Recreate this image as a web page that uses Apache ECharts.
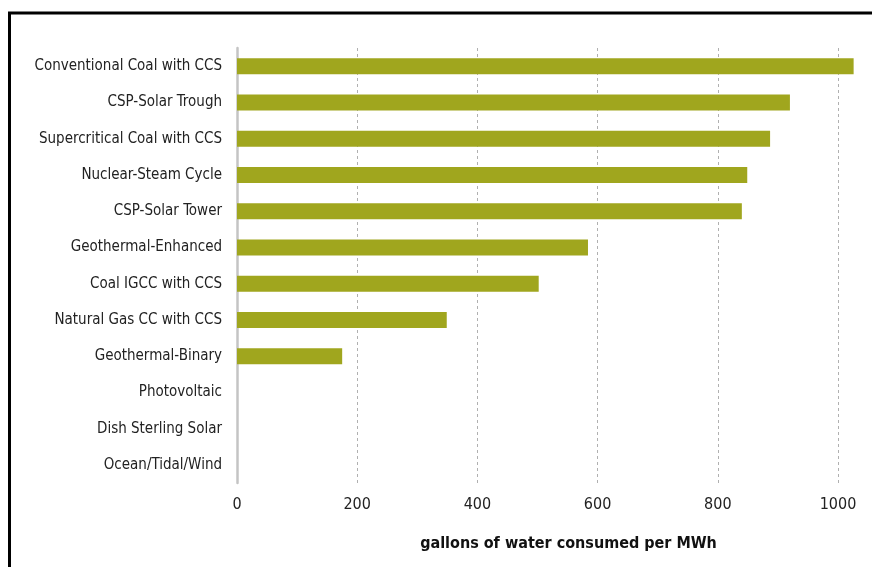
<!DOCTYPE html>
<html>
<head>
<meta charset="utf-8">
<script src="https://cdn.jsdelivr.net/npm/echarts@6/dist/echarts.min.js"></script>
<style>
html,body{margin:0;padding:0;background:#fff;}
#c{width:872px;height:567px;}
</style>
</head>
<body>
<div id="c"></div>
<script>
const categories = ["Conventional Coal with CCS","CSP-Solar Trough","Supercritical Coal with CCS","Nuclear-Steam Cycle","CSP-Solar Tower","Geothermal-Enhanced","Coal IGCC with CCS","Natural Gas CC with CCS","Geothermal-Binary","Photovoltaic","Dish Sterling Solar","Ocean/Tidal/Wind"];
const values = [1026, 920, 887, 849, 840, 584, 502, 349, 175, 0, 0, 0];
const axisTitle = "gallons of water consumed per MWh";
const FONT = "'Liberation Sans Narrow','DejaVu Sans Condensed',sans-serif";

const chart = echarts.init(document.getElementById('c'), null, {renderer:'canvas'});
chart.setOption({
  animation:false,
  backgroundColor:'#fff',
  graphic:[{
    type:'rect', silent:true, z:-1,
    shape:{x:9.5, y:13, width:900, height:600},
    style:{fill:'none', stroke:'#000', lineWidth:3}
  }],
  grid:{left:237, right:34, top:48, height:435, containLabel:false},
  xAxis:{
    type:'value', min:0, max:1000, interval:200,
    name:axisTitle, nameLocation:'middle', nameGap:53,
    nameTextStyle:{fontFamily:FONT, fontSize:16, fontWeight:'bold', color:'#111', padding:[0,0,0,62]},
    axisLine:{show:false}, axisTick:{show:false},
    axisLabel:{fontFamily:FONT, fontSize:16, color:'#222', margin:14, formatter:function(v){return String(v);}},
    splitLine:{show:true, lineStyle:{color:'#b0b0b0', type:[3,3], width:1}}
  },
  yAxis:{
    type:'category', data:categories, inverse:true,
    axisLine:{show:true, lineStyle:{color:'#c4c4c4', width:2.5}},
    axisTick:{show:false},
    axisLabel:{fontFamily:FONT, fontSize:15, color:'#222', margin:15}
  },
  series:[{
    type:'bar', data:values, clip:false,
    barWidth:16,
    itemStyle:{color:'#a0a61e'}
  }]
});
</script>
</body>
</html>
